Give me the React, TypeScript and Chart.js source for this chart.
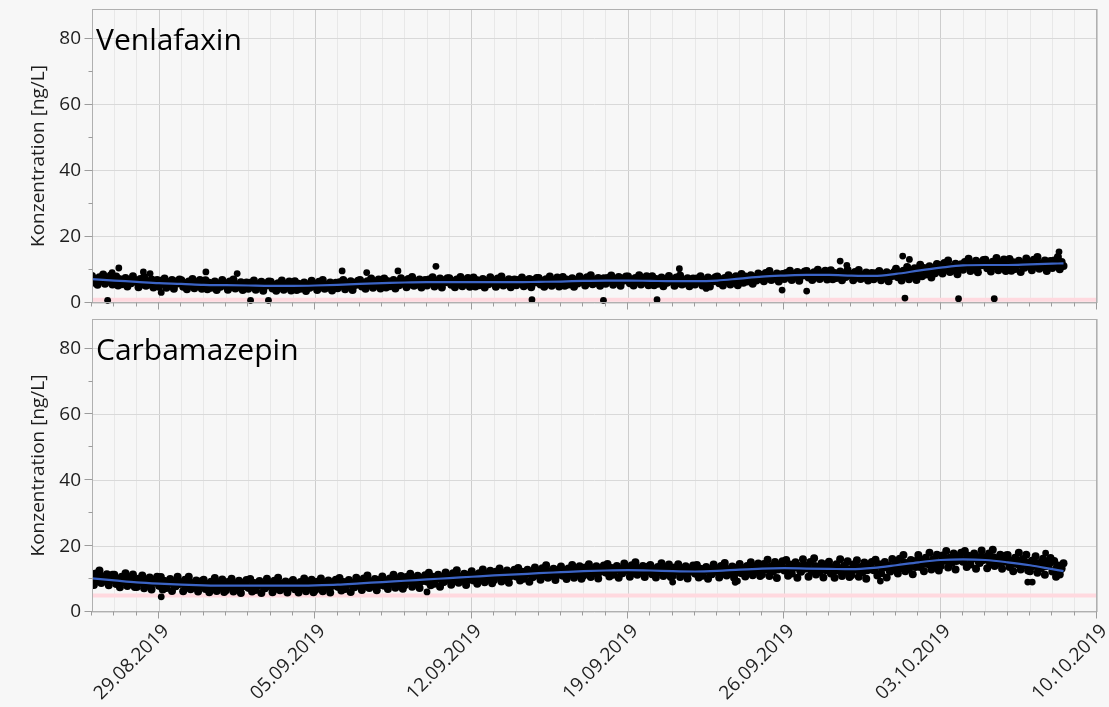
import React, { useEffect, useRef } from 'react';
import { Chart, registerables } from 'chart.js';

Chart.register(...registerables);

// ---- axis definitions -------------------------------------------------
// x values are days since 26.08.2019 00:00
const X_MIN = 0;
const X_MAX = 45;
const STEP_DAYS = 2 / 24; // main series: one measurement every 2 hours (00:00, 02:00, ...)
const MID_START_DAYS = 1 / 24; // second series: 01:00, 05:00, 09:00, ...
const MID_STEP_DAYS = 4 / 24;
const xTickDays = [3, 10, 17, 24, 31, 38, 45];
const xTickLabels = ['29.08.2019', '05.09.2019', '12.09.2019', '19.09.2019', '26.09.2019', '03.10.2019', '10.10.2019'];
const yTickValues = [0, 10, 20, 30, 40, 50, 60, 70, 80];
const Y_MAX = 89;

// ---- Venlafaxin -------------------------------------------------------
const venlafaxin = [
  8.2, 6.2, 7.3, 5.5, 7.8, 6.7, 8.6, 5.8, 7.5, 6.5, 8.3, 5.6,
  6.2, 8.0, 5.3, 7.2, 5.7, 6.7, 7.6, 5.0, 7.0, 6.0, 8.1, 6.5,
  6.7, 4.8, 7.3, 5.9, 7.9, 5.2, 6.3, 5.6, 7.1, 4.7, 6.6, 7.0,
  4.9, 6.7, 5.8, 7.4, 4.6, 6.3, 5.4, 7.0, 4.3, 6.5, 5.9, 7.1,
  6.9, 4.9, 6.0, 4.2, 6.5, 5.4, 7.3, 4.5, 6.2, 5.2, 7.0, 4.3,
  5.1, 6.9, 4.2, 6.1, 4.6, 5.6, 6.5, 3.9, 5.9, 4.9, 7.0, 5.4,
  5.9, 4.0, 6.5, 5.1, 7.1, 4.4, 5.5, 4.8, 6.3, 3.9, 5.8, 6.2,
  4.3, 6.1, 5.2, 6.8, 4.0, 5.7, 4.8, 6.4, 3.7, 5.9, 5.3, 6.5,
  6.4, 4.4, 5.5, 3.7, 6.0, 4.9, 6.8, 4.0, 5.7, 4.7, 6.5, 3.8,
  4.8, 6.6, 3.9, 5.8, 4.3, 5.3, 6.2, 3.6, 5.6, 4.6, 6.7, 5.1,
  5.8, 3.9, 6.4, 5.0, 7.0, 4.3, 5.4, 4.7, 6.2, 3.8, 5.7, 6.1,
  4.5, 6.3, 5.4, 7.0, 4.2, 5.9, 5.0, 6.6, 3.9, 6.1, 5.5, 6.7,
  7.0, 5.0, 6.1, 4.3, 6.6, 5.5, 7.4, 4.6, 6.3, 5.3, 7.1, 4.4,
  5.6, 7.4, 4.7, 6.6, 5.1, 6.1, 7.0, 4.4, 6.4, 5.4, 7.5, 5.9,
  6.7, 4.8, 7.3, 5.9, 7.9, 5.2, 6.3, 5.6, 7.1, 4.7, 6.6, 7.0,
  5.3, 7.1, 6.2, 7.8, 5.0, 6.7, 5.8, 7.4, 4.7, 6.9, 6.3, 7.5,
  7.5, 5.5, 6.6, 4.8, 7.1, 6.0, 7.9, 5.1, 6.8, 5.8, 7.6, 4.9,
  5.9, 7.7, 5.0, 6.9, 5.4, 6.4, 7.3, 4.7, 6.7, 5.7, 7.8, 6.2,
  6.8, 4.9, 7.4, 6.0, 8.0, 5.3, 6.4, 5.7, 7.2, 4.8, 6.7, 7.1,
  5.4, 7.0, 6.1, 7.7, 5.1, 6.8, 5.7, 7.3, 4.8, 7.0, 6.2, 7.6,
  7.6, 5.6, 6.7, 4.9, 7.2, 6.1, 8.0, 5.2, 6.9, 5.9, 7.7, 5.0,
  6.1, 7.9, 5.2, 7.1, 5.6, 6.6, 7.5, 4.9, 6.9, 5.9, 8.0, 6.4,
  7.2, 5.3, 7.8, 6.4, 8.4, 5.7, 6.8, 6.1, 7.6, 5.2, 7.1, 7.5,
  5.8, 7.6, 6.7, 8.3, 5.5, 7.2, 6.3, 7.9, 5.2, 7.4, 6.8, 8.0,
  8.0, 6.0, 7.1, 5.3, 7.6, 6.5, 8.4, 5.6, 7.3, 6.3, 8.1, 5.4,
  6.3, 8.1, 5.4, 7.3, 5.8, 6.8, 7.7, 5.1, 7.1, 6.1, 8.2, 6.6,
  7.1, 5.2, 7.7, 6.3, 8.3, 5.6, 6.7, 6.0, 7.5, 5.1, 7.0, 7.4,
  5.6, 7.4, 6.5, 8.1, 5.3, 7.0, 6.1, 7.7, 5.0, 7.2, 6.6, 7.8,
  8.0, 6.0, 7.1, 5.3, 7.6, 6.5, 8.4, 5.6, 7.3, 6.3, 8.1, 5.4,
  7.0, 8.8, 6.1, 8.0, 6.5, 7.5, 8.4, 5.8, 7.8, 6.8, 8.9, 7.3,
  8.5, 6.6, 9.1, 7.7, 9.7, 7.0, 8.1, 7.4, 8.9, 6.5, 8.4, 8.8,
  7.3, 9.1, 8.2, 9.8, 7.0, 8.7, 7.8, 9.4, 6.7, 8.9, 8.3, 9.5,
  9.7, 7.7, 8.8, 7.0, 9.3, 8.2, 10.1, 7.3, 9.0, 8.0, 9.8, 7.1,
  8.1, 9.9, 7.2, 9.1, 7.6, 8.6, 9.5, 6.9, 8.9, 7.9, 10.0, 8.4,
  8.8, 6.9, 9.4, 8.0, 10.0, 7.3, 8.4, 7.7, 9.2, 6.8, 8.7, 9.1,
  7.2, 9.0, 8.1, 9.7, 6.9, 8.6, 7.7, 9.3, 6.6, 8.8, 8.2, 9.4,
  10.4, 7.8, 9.2, 6.8, 9.8, 8.4, 10.9, 7.2, 9.5, 8.1, 10.5, 7.0,
  9.3, 11.6, 8.1, 10.6, 8.6, 9.9, 11.1, 7.7, 10.3, 9.0, 11.8, 9.7,
  11.4, 8.9, 12.1, 10.3, 12.9, 9.4, 10.8, 9.9, 11.9, 8.7, 11.2, 11.7,
  10.1, 12.4, 11.3, 13.4, 9.7, 11.9, 10.7, 12.8, 9.3, 12.2, 11.4, 13.0,
  13.1, 10.5, 11.9, 9.5, 12.5, 11.1, 13.6, 9.9, 12.2, 10.8, 13.2, 9.7,
  11.0, 13.3, 9.8, 12.3, 10.3, 11.6, 12.8, 9.4, 12.0, 10.7, 13.5, 11.4,
  12.4, 9.9, 13.1, 11.3, 13.9, 10.4, 11.8, 10.9, 12.9, 9.7, 12.2, 12.7,
  10.6, 12.9, 11.8, 13.9, 10.2, 12.4, 11.2,
];
const venlafaxinMid = [
  7.4, 6.7, 7.1, 6.4, 7.6, 6.9,
  6.2, 7.1, 6.6, 6.8, 6.1, 6.9,
  6.4, 5.6, 6.7, 6.0, 6.3, 5.9,
  5.8, 6.2, 5.5, 6.5, 5.7, 6.3,
  6.1, 5.4, 5.8, 5.1, 6.3, 5.6,
  5.1, 6.0, 5.5, 5.7, 5.0, 5.8,
  5.6, 4.8, 5.9, 5.2, 5.5, 5.1,
  5.2, 5.6, 4.9, 5.9, 5.1, 5.7,
  5.6, 4.9, 5.3, 4.6, 5.8, 5.1,
  4.8, 5.7, 5.2, 5.4, 4.7, 5.5,
  5.5, 4.7, 5.8, 5.1, 5.4, 5.0,
  5.4, 5.8, 5.1, 6.1, 5.3, 5.9,
  6.2, 5.5, 5.9, 5.2, 6.4, 5.7,
  5.6, 6.5, 6.0, 6.2, 5.5, 6.3,
  6.4, 5.6, 6.7, 6.0, 6.3, 5.9,
  6.2, 6.6, 5.9, 6.9, 6.1, 6.7,
  6.7, 6.0, 6.4, 5.7, 6.9, 6.2,
  5.9, 6.8, 6.3, 6.5, 5.8, 6.6,
  6.5, 5.7, 6.8, 6.1, 6.4, 6.0,
  6.2, 6.6, 5.9, 6.9, 6.1, 6.7,
  6.8, 6.1, 6.5, 5.8, 7.0, 6.3,
  6.1, 7.0, 6.5, 6.7, 6.0, 6.8,
  6.9, 6.1, 7.2, 6.5, 6.8, 6.4,
  6.7, 7.1, 6.4, 7.4, 6.6, 7.2,
  7.2, 6.5, 6.9, 6.2, 7.4, 6.7,
  6.3, 7.2, 6.7, 6.9, 6.2, 7.0,
  6.8, 6.0, 7.1, 6.4, 6.7, 6.3,
  6.5, 6.9, 6.2, 7.2, 6.4, 7.0,
  7.4, 6.7, 7.1, 6.4, 7.6, 6.9,
  7.0, 7.9, 7.4, 7.6, 6.9, 7.7,
  8.2, 7.4, 8.5, 7.8, 8.1, 7.7,
  8.2, 8.6, 7.9, 8.9, 8.1, 8.7,
  8.9, 8.2, 8.6, 7.9, 9.1, 8.4,
  8.1, 9.0, 8.5, 8.7, 8.0, 8.8,
  8.5, 7.7, 8.8, 8.1, 8.4, 8.0,
  8.1, 8.5, 7.8, 8.8, 8.0, 8.6,
  9.2, 8.5, 8.9, 8.2, 9.4, 8.7,
  9.4, 10.3, 9.8, 10.0, 9.3, 10.1,
  10.9, 10.1, 11.2, 10.5, 10.8, 10.4,
  11.3, 11.7, 11.0, 12.0, 11.2, 11.8,
  11.9, 11.2, 11.6, 10.9, 12.1, 11.4,
  11.1, 12.0, 11.5, 11.7, 11.0, 11.8,
  11.9, 11.1, 12.2, 11.5, 11.8, 11.4,
  11.8, 12.2, 11.5,
];
const venlafaxinOutlierDays = [0.7, 0.9, 1.2, 2.3, 2.6, 3.1, 5.1, 6.5, 7.1, 7.9, 11.2, 12.3, 13.7, 15.4, 19.7, 22.9, 25.3, 26.3, 27.5, 30.9, 32.0, 33.5, 33.8, 36.3, 36.6, 36.4, 38.8, 40.4, 43.3];
const venlafaxinOutlierValues = [0.8, 9.2, 10.6, 9.4, 8.9, 3.2, 9.4, 8.9, 0.8, 0.8, 9.7, 9.2, 9.7, 11.1, 1.0, 0.8, 1.0, 10.4, 4.4, 3.9, 3.6, 12.7, 11.4, 14.2, 13.2, 1.5, 1.3, 1.3, 15.5];
const smoothDays = [0, 1, 2, 3, 4, 5, 6, 7, 8, 9, 10, 11, 12, 13, 14, 15, 16, 17, 18, 19, 20, 21, 22, 23, 24, 25, 26, 27, 28, 29, 30, 31, 32, 33, 34, 35, 36, 37, 38, 39, 40, 41, 42, 43, 43.5];
const venlafaxinSmooth = [7.2, 6.8, 6.4, 6.0, 5.8, 5.5, 5.4, 5.3, 5.2, 5.2, 5.3, 5.5, 5.8, 6.0, 6.2, 6.3, 6.3, 6.3, 6.3, 6.3, 6.4, 6.5, 6.7, 6.8, 6.8, 6.7, 6.6, 6.6, 6.8, 7.4, 8.0, 8.3, 8.5, 8.5, 8.3, 8.2, 8.8, 9.8, 10.7, 11.4, 11.5, 11.5, 11.7, 11.9, 12.0];
const venlafaxinLimit = 1;

// ---- Carbamazepin -----------------------------------------------------
const carbamazepin = [
  10.9, 8.2, 11.7, 9.8, 12.6, 8.8, 10.3, 9.4, 11.5, 8.1, 10.8, 11.3,
  11.3, 8.5, 10.0, 7.5, 10.7, 9.2, 11.8, 7.9, 10.3, 8.9, 11.4, 7.6,
  7.6, 10.1, 8.9, 11.1, 7.2, 9.6, 8.3, 10.5, 6.8, 9.8, 9.0, 10.7,
  8.0, 10.6, 6.8, 9.4, 7.3, 8.7, 10.0, 6.4, 9.2, 7.8, 10.7, 8.5,
  9.0, 6.3, 9.8, 7.9, 10.7, 6.9, 8.4, 7.5, 9.6, 6.2, 8.9, 9.4,
  9.8, 7.0, 8.5, 6.0, 9.2, 7.7, 10.3, 6.4, 8.8, 7.4, 9.9, 6.1,
  6.6, 9.1, 7.9, 10.1, 6.2, 8.6, 7.3, 9.5, 5.8, 8.8, 8.0, 9.7,
  7.4, 10.0, 6.2, 8.8, 6.7, 8.1, 9.4, 5.8, 8.6, 7.2, 10.1, 7.9,
  8.7, 6.0, 9.5, 7.6, 10.4, 6.6, 8.1, 7.2, 9.3, 5.9, 8.6, 9.1,
  9.7, 6.9, 8.4, 5.9, 9.1, 7.6, 10.2, 6.3, 8.7, 7.3, 9.8, 6.0,
  6.7, 9.2, 8.0, 10.2, 6.3, 8.7, 7.4, 9.6, 5.9, 8.9, 8.1, 9.8,
  7.7, 10.3, 6.5, 9.1, 7.0, 8.4, 9.7, 6.1, 8.9, 7.5, 10.4, 8.2,
  9.4, 6.7, 10.2, 8.3, 11.1, 7.3, 8.8, 7.9, 10.0, 6.6, 9.3, 9.8,
  10.8, 8.0, 9.5, 7.0, 10.2, 8.7, 11.3, 7.4, 9.8, 8.4, 10.9, 7.1,
  8.1, 10.6, 9.4, 11.6, 7.7, 10.1, 8.8, 11.0, 7.3, 10.3, 9.5, 11.2,
  9.3, 11.9, 8.1, 10.7, 8.6, 10.0, 11.3, 7.7, 10.5, 9.1, 12.0, 9.8,
  11.0, 8.3, 11.8, 9.9, 12.7, 8.9, 10.4, 9.5, 11.6, 8.2, 10.9, 11.4,
  12.4, 9.6, 11.1, 8.6, 11.8, 10.3, 12.9, 9.0, 11.4, 10.0, 12.5, 8.7,
  9.7, 12.2, 11.0, 13.2, 9.3, 11.7, 10.4, 12.6, 8.9, 11.9, 11.1, 12.8,
  10.8, 13.4, 9.6, 12.2, 10.1, 11.5, 12.8, 9.2, 12.0, 10.6, 13.5, 11.3,
  12.5, 9.8, 13.3, 11.4, 14.2, 10.4, 11.9, 11.0, 13.1, 9.7, 12.4, 12.9,
  13.8, 11.0, 12.5, 10.0, 13.2, 11.7, 14.3, 10.4, 12.8, 11.4, 13.9, 10.1,
  11.0, 13.5, 12.3, 14.5, 10.6, 13.0, 11.7, 13.9, 10.2, 13.2, 12.4, 14.1,
  12.0, 14.6, 10.8, 13.4, 11.3, 12.7, 14.0, 10.4, 13.2, 11.8, 14.7, 12.5,
  13.4, 10.7, 14.2, 12.3, 15.1, 11.3, 12.8, 11.9, 14.0, 10.6, 13.3, 13.8,
  14.3, 11.5, 13.0, 10.5, 13.7, 12.2, 14.8, 10.9, 13.3, 11.9, 14.4, 10.6,
  11.0, 13.5, 12.3, 14.5, 10.6, 13.0, 11.7, 13.9, 10.2, 13.2, 12.4, 14.1,
  11.7, 14.3, 10.5, 13.1, 11.0, 12.4, 13.7, 10.1, 12.9, 11.5, 14.4, 12.2,
  13.2, 10.5, 14.0, 12.1, 14.9, 11.1, 12.6, 11.7, 13.8, 10.4, 13.1, 13.6,
  14.6, 11.8, 13.3, 10.8, 14.0, 12.5, 15.1, 11.2, 13.6, 12.2, 14.7, 10.9,
  11.4, 14.6, 13.0, 15.9, 10.9, 13.9, 12.3, 15.2, 10.3, 14.3, 13.2, 15.4,
  12.6, 15.8, 11.0, 14.4, 11.7, 13.5, 15.1, 10.4, 14.0, 12.2, 16.0, 13.1,
  14.1, 10.7, 15.2, 12.7, 16.3, 11.4, 13.4, 12.1, 14.8, 10.5, 13.9, 14.6,
  15.3, 11.7, 13.6, 10.4, 14.5, 12.6, 16.0, 10.9, 14.0, 12.2, 15.4, 10.6,
  11.2, 14.4, 12.8, 15.7, 10.7, 13.7, 12.1, 15.0, 10.1, 14.1, 13.0, 15.2,
  12.7, 15.9, 11.1, 14.5, 11.8, 13.6, 15.2, 10.5, 14.1, 12.3, 16.1, 13.2,
  15.1, 11.7, 16.2, 13.7, 17.3, 12.4, 14.4, 13.1, 15.8, 11.5, 14.9, 15.6,
  17.3, 13.7, 15.6, 12.4, 16.5, 14.6, 18.0, 12.9, 16.0, 14.2, 17.4, 12.6,
  14.0, 17.2, 15.6, 18.5, 13.5, 16.5, 14.9, 17.8, 12.9, 16.9, 15.8, 18.0,
  15.3, 18.5, 13.7, 17.1, 14.4, 16.2, 17.8, 13.1, 16.7, 14.9, 18.7, 15.8,
  16.7, 13.3, 17.8, 15.3, 18.9, 14.0, 16.0, 14.7, 17.4, 13.1, 16.5, 17.2,
  17.3, 13.7, 15.6, 12.4, 16.5, 14.6, 18.0, 12.9, 16.0, 14.2, 17.4, 12.6,
  12.4, 15.6, 14.0, 16.9, 11.9, 14.9, 13.3, 16.2, 11.3, 15.3, 14.2, 16.4,
  12.3, 15.5, 10.7, 14.1, 11.4, 13.2, 14.8,
];
const carbamazepinMid = [
  10.5, 9.3, 11.0, 9.9, 10.4, 9.7,
  10.2, 9.1, 9.8, 8.7, 10.5, 9.4,
  8.8, 9.5, 8.4, 9.9, 8.7, 9.6,
  8.0, 9.4, 8.6, 8.9, 7.8, 9.1,
  8.6, 7.4, 9.1, 8.0, 8.5, 7.8,
  8.7, 7.6, 8.3, 7.2, 9.0, 7.9,
  7.8, 8.5, 7.4, 8.9, 7.7, 8.6,
  7.4, 8.8, 8.0, 8.3, 7.2, 8.5,
  8.3, 7.1, 8.8, 7.7, 8.2, 7.5,
  8.6, 7.5, 8.2, 7.1, 8.9, 7.8,
  7.9, 8.6, 7.5, 9.0, 7.8, 8.7,
  7.7, 9.1, 8.3, 8.6, 7.5, 8.8,
  9.0, 7.8, 9.5, 8.4, 8.9, 8.2,
  9.7, 8.6, 9.3, 8.2, 10.0, 8.9,
  9.3, 10.0, 8.9, 10.4, 9.2, 10.1,
  9.3, 10.7, 9.9, 10.2, 9.1, 10.4,
  10.6, 9.4, 11.1, 10.0, 10.5, 9.8,
  11.3, 10.2, 10.9, 9.8, 11.6, 10.5,
  10.9, 11.6, 10.5, 12.0, 10.8, 11.7,
  10.8, 12.2, 11.4, 11.7, 10.6, 11.9,
  12.1, 10.9, 12.6, 11.5, 12.0, 11.3,
  12.7, 11.6, 12.3, 11.2, 13.0, 11.9,
  12.2, 12.9, 11.8, 13.3, 12.1, 13.0,
  12.0, 13.4, 12.6, 12.9, 11.8, 13.1,
  13.0, 11.8, 13.5, 12.4, 12.9, 12.2,
  13.2, 12.1, 12.8, 11.7, 13.5, 12.4,
  12.2, 12.9, 11.8, 13.3, 12.1, 13.0,
  11.7, 13.1, 12.3, 12.6, 11.5, 12.8,
  12.8, 11.6, 13.3, 12.2, 12.7, 12.0,
  13.5, 12.4, 13.1, 12.0, 13.8, 12.7,
  13.0, 13.7, 12.6, 14.1, 12.9, 13.8,
  12.7, 14.1, 13.3, 13.6, 12.5, 13.8,
  13.5, 12.3, 14.0, 12.9, 13.4, 12.7,
  13.7, 12.6, 13.3, 12.2, 14.0, 12.9,
  12.8, 13.5, 12.4, 13.9, 12.7, 13.6,
  12.8, 14.2, 13.4, 13.7, 12.6, 13.9,
  14.5, 13.3, 15.0, 13.9, 14.4, 13.7,
  15.7, 14.6, 15.3, 14.2, 16.0, 14.9,
  15.6, 16.3, 15.2, 16.7, 15.5, 16.4,
  15.4, 16.8, 16.0, 16.3, 15.2, 16.5,
  16.1, 14.9, 16.6, 15.5, 16.0, 15.3,
  15.7, 14.6, 15.3, 14.2, 16.0, 14.9,
  14.0, 14.7, 13.6, 15.1, 13.9, 14.8,
  12.4, 13.8, 13.0,
];
const carbamazepinOutlierDays = [3.1, 15.0, 26.0, 28.8, 28.9, 35.3, 41.9, 42.1, 42.7];
const carbamazepinOutlierValues = [4.6, 6.1, 9.1, 9.0, 9.4, 9.4, 9.1, 9.1, 17.9];
const carbamazepinSmooth = [10.2, 9.6, 9.0, 8.6, 8.3, 8.1, 8.0, 8.0, 8.0, 8.0, 8.1, 8.3, 8.7, 9.1, 9.5, 9.9, 10.3, 10.7, 11.1, 11.4, 11.8, 12.1, 12.4, 12.6, 12.7, 12.6, 12.4, 12.3, 12.5, 12.9, 13.2, 13.3, 13.2, 13.1, 13.0, 13.4, 14.2, 15.1, 15.8, 16.0, 15.8, 15.1, 14.2, 13.0, 12.4];
const carbamazepinLimit = 5;

// ---- styles -----------------------------------------------------------
const FONT = '"Open Sans", "Noto Sans", sans-serif';
const TEXT_COLOR = '#1e1e1e';
const TICK_SIZE = 19;
const allDays = Array.from({ length: X_MAX - X_MIN + 1 }, (_, i) => X_MIN + i);

type PanelProps = {
  title: string;
  values: number[];
  midValues: number[];
  outDays: number[];
  outValues: number[];
  smooth: number[];
  limit: number;
  showXLabels: boolean;
  top: number;
  height: number;
  padTop: number;
  xAxisHeight: number;
};

function makeDecor(title: string) {
  return {
    id: 'panelDecor',
    afterDatasetsDraw(chart: any) {
      const { ctx, chartArea: a, scales } = chart;
      const xs = scales.x;
      const ys = scales.y;
      ctx.save();
      // frame
      ctx.strokeStyle = '#b0b0b0';
      ctx.lineWidth = 1;
      const l = Math.round(a.left) + 0.5;
      const t = Math.round(a.top) + 0.5;
      const r = Math.round(a.right) - 0.5;
      const b = Math.round(a.bottom) - 0.5;
      ctx.strokeRect(l, t, r - l, b - t);
      // tick marks
      ctx.strokeStyle = '#9c9c9c';
      ctx.beginPath();
      for (const v of yTickValues) {
        const py = Math.round(ys.getPixelForValue(v)) - 0.5;
        const len = v % 20 === 0 ? 8 : 4;
        ctx.moveTo(l - len, py);
        ctx.lineTo(l, py);
      }
      for (const d of allDays) {
        const px = Math.round(xs.getPixelForValue(d)) - 0.5;
        const len = xTickDays.includes(d) ? 7 : 4;
        ctx.moveTo(px, b);
        ctx.lineTo(px, b + len);
      }
      ctx.stroke();
      // panel title
      ctx.fillStyle = '#000';
      ctx.font = '30px ' + FONT;
      ctx.textAlign = 'left';
      ctx.textBaseline = 'alphabetic';
      ctx.fillText(title, a.left + 4, a.top + 41);
      ctx.restore();
    },
  };
}

function Panel(props: PanelProps) {
  const ref = useRef<HTMLCanvasElement | null>(null);
  useEffect(() => {
    const canvas = ref.current;
    if (!canvas) return;
    const pointStyle = {
      pointRadius: 4.0,
      pointHoverRadius: 4.0,
      backgroundColor: '#000000',
      borderWidth: 0,
      order: 2,
      clip: { left: 0, right: 0, top: 0, bottom: 4 },
    };
    const chart = new Chart(canvas, {
      type: 'scatter',
      data: {
        datasets: [
          {
            type: 'line',
            data: [
              { x: X_MIN, y: props.limit },
              { x: X_MAX, y: props.limit },
            ],
            borderColor: '#ffd9df',
            borderWidth: 4,
            pointRadius: 0,
            order: 3,
          } as any,
          {
            data: props.values.map((v, i) => ({ x: i * STEP_DAYS, y: v })),
            ...pointStyle,
          } as any,
          {
            data: props.midValues.map((v, i) => ({ x: MID_START_DAYS + i * MID_STEP_DAYS, y: v })),
            ...pointStyle,
          } as any,
          {
            data: props.outDays.map((d, i) => ({ x: d, y: props.outValues[i] })),
            ...pointStyle,
            pointRadius: 3.4,
          } as any,
          {
            type: 'line',
            data: smoothDays.map((d, i) => ({ x: d, y: props.smooth[i] })),
            borderColor: '#3b63c4',
            borderWidth: 2.2,
            pointRadius: 0,
            cubicInterpolationMode: 'monotone',
            order: 1,
          } as any,
        ],
      },
      options: {
        responsive: false,
        animation: false,
        devicePixelRatio: 1,
        layout: { padding: { top: props.padTop, right: 12, left: 0, bottom: 0 } },
        plugins: {
          legend: { display: false },
          tooltip: { enabled: false },
        },
        scales: {
          x: {
            type: 'linear',
            min: X_MIN,
            max: X_MAX,
            afterBuildTicks: (s: any) => {
              s.ticks = allDays.map((v) => ({ value: v }));
            },
            afterFit: (s: any) => {
              s.height = props.xAxisHeight;
              s.paddingLeft = 0;
              s.paddingRight = 0;
            },
            ticks: {
              display: props.showXLabels,
              autoSkip: false,
              minRotation: 45,
              maxRotation: 45,
              padding: 8,
              labelOffset: 7,
              color: TEXT_COLOR,
              font: { family: FONT, size: TICK_SIZE },
              callback: (v: any) => {
                const k = xTickDays.indexOf(Number(v));
                return k >= 0 ? xTickLabels[k] : '';
              },
            },
            grid: {
              drawTicks: false,
              lineWidth: 1,
              color: (c: any) => (xTickDays.includes(c.tick?.value) ? '#cdcdcd' : '#e8e8e8'),
            },
            border: { display: false },
          },
          y: {
            type: 'linear',
            min: 0,
            max: Y_MAX,
            afterBuildTicks: (s: any) => {
              s.ticks = yTickValues.map((v) => ({ value: v }));
            },
            afterFit: (s: any) => {
              s.width = 92;
              s.paddingTop = 0;
              s.paddingBottom = 0;
            },
            ticks: {
              padding: 11,
              color: TEXT_COLOR,
              font: { family: FONT, size: TICK_SIZE },
              callback: (v: any) => (Number(v) % 20 === 0 ? String(v) : ''),
            },
            grid: {
              drawTicks: false,
              lineWidth: 1,
              color: (c: any) => (c.tick && c.tick.value % 20 === 0 ? '#d9d9d9' : 'rgba(0,0,0,0)'),
            },
            border: { display: false },
            title: {
              display: true,
              text: 'Konzentration [ng/L]',
              color: TEXT_COLOR,
              font: { family: FONT, size: TICK_SIZE },
              padding: { top: 27, bottom: 0 },
            },
          },
        },
      } as any,
      plugins: [makeDecor(props.title)],
    });
    return () => chart.destroy();
  }, [props]);
  return (
    <canvas
      ref={ref}
      width={1109}
      height={props.height}
      style={{ position: 'absolute', left: 0, top: props.top, width: 1109, height: props.height, display: 'block' }}
    />
  );
}

const topPanel: PanelProps = {
  title: 'Venlafaxin',
  values: venlafaxin,
  midValues: venlafaxinMid,
  outDays: venlafaxinOutlierDays,
  outValues: venlafaxinOutlierValues,
  smooth: venlafaxinSmooth,
  limit: venlafaxinLimit,
  showXLabels: false,
  top: 0,
  height: 313,
  padTop: 9,
  xAxisHeight: 10,
};

const bottomPanel: PanelProps = {
  title: 'Carbamazepin',
  values: carbamazepin,
  midValues: carbamazepinMid,
  outDays: carbamazepinOutlierDays,
  outValues: carbamazepinOutlierValues,
  smooth: carbamazepinSmooth,
  limit: carbamazepinLimit,
  showXLabels: true,
  top: 313,
  height: 394,
  padTop: 6,
  xAxisHeight: 95,
};

export default function App() {
  return (
    <div style={{ position: 'absolute', left: 0, top: 0, width: 1109, height: 707, background: '#f7f7f7', overflow: 'hidden' }}>
      <Panel {...topPanel} />
      <Panel {...bottomPanel} />
    </div>
  );
}
